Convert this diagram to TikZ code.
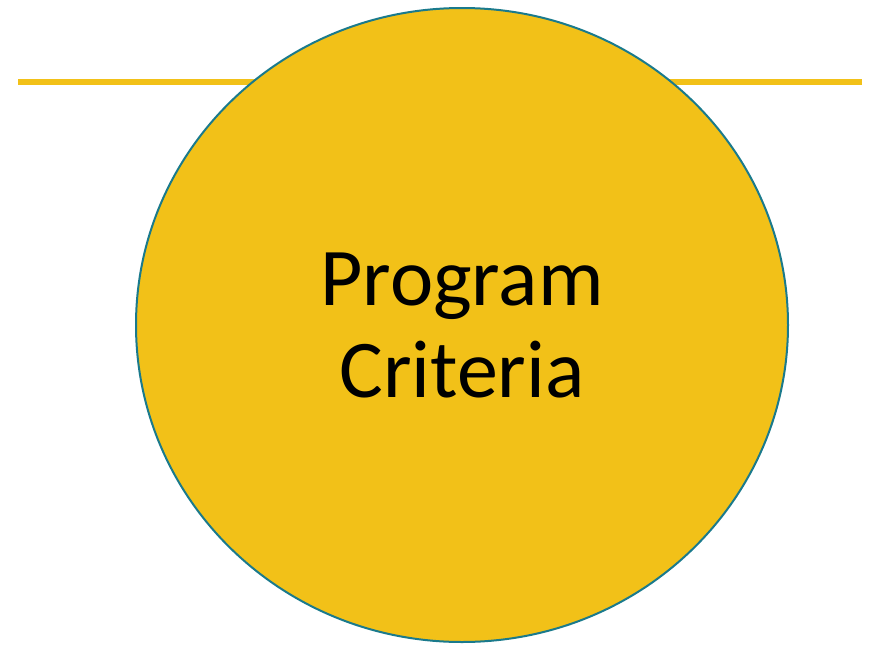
\documentclass[tikz,border=0pt]{standalone}
\usepackage{fontspec}
\setmainfont{Carlito}
\definecolor{gold}{HTML}{F2C118}
\definecolor{teal}{HTML}{1A7A8C}
\begin{document}
\begin{tikzpicture}[x=1pt,y=-1pt,
  rule/.style={draw=gold,line width=6pt},
  disc/.style={draw=teal,line width=2pt,fill=gold}]
\useasboundingbox (0,0) rectangle (871,646);
% horizontal rule behind the disc
\coordinate (ruleL) at (18,82);
\coordinate (ruleR) at (862,82);
\draw[rule] (ruleL) -- (ruleR);
% the disc
\draw[disc] (462,325) ellipse [x radius=326, y radius=317];
\node[align=center,font=\fontsize{82}{92}\selectfont] (label) at (462,325) {Program\\Criteria};
\end{tikzpicture}
\end{document}
